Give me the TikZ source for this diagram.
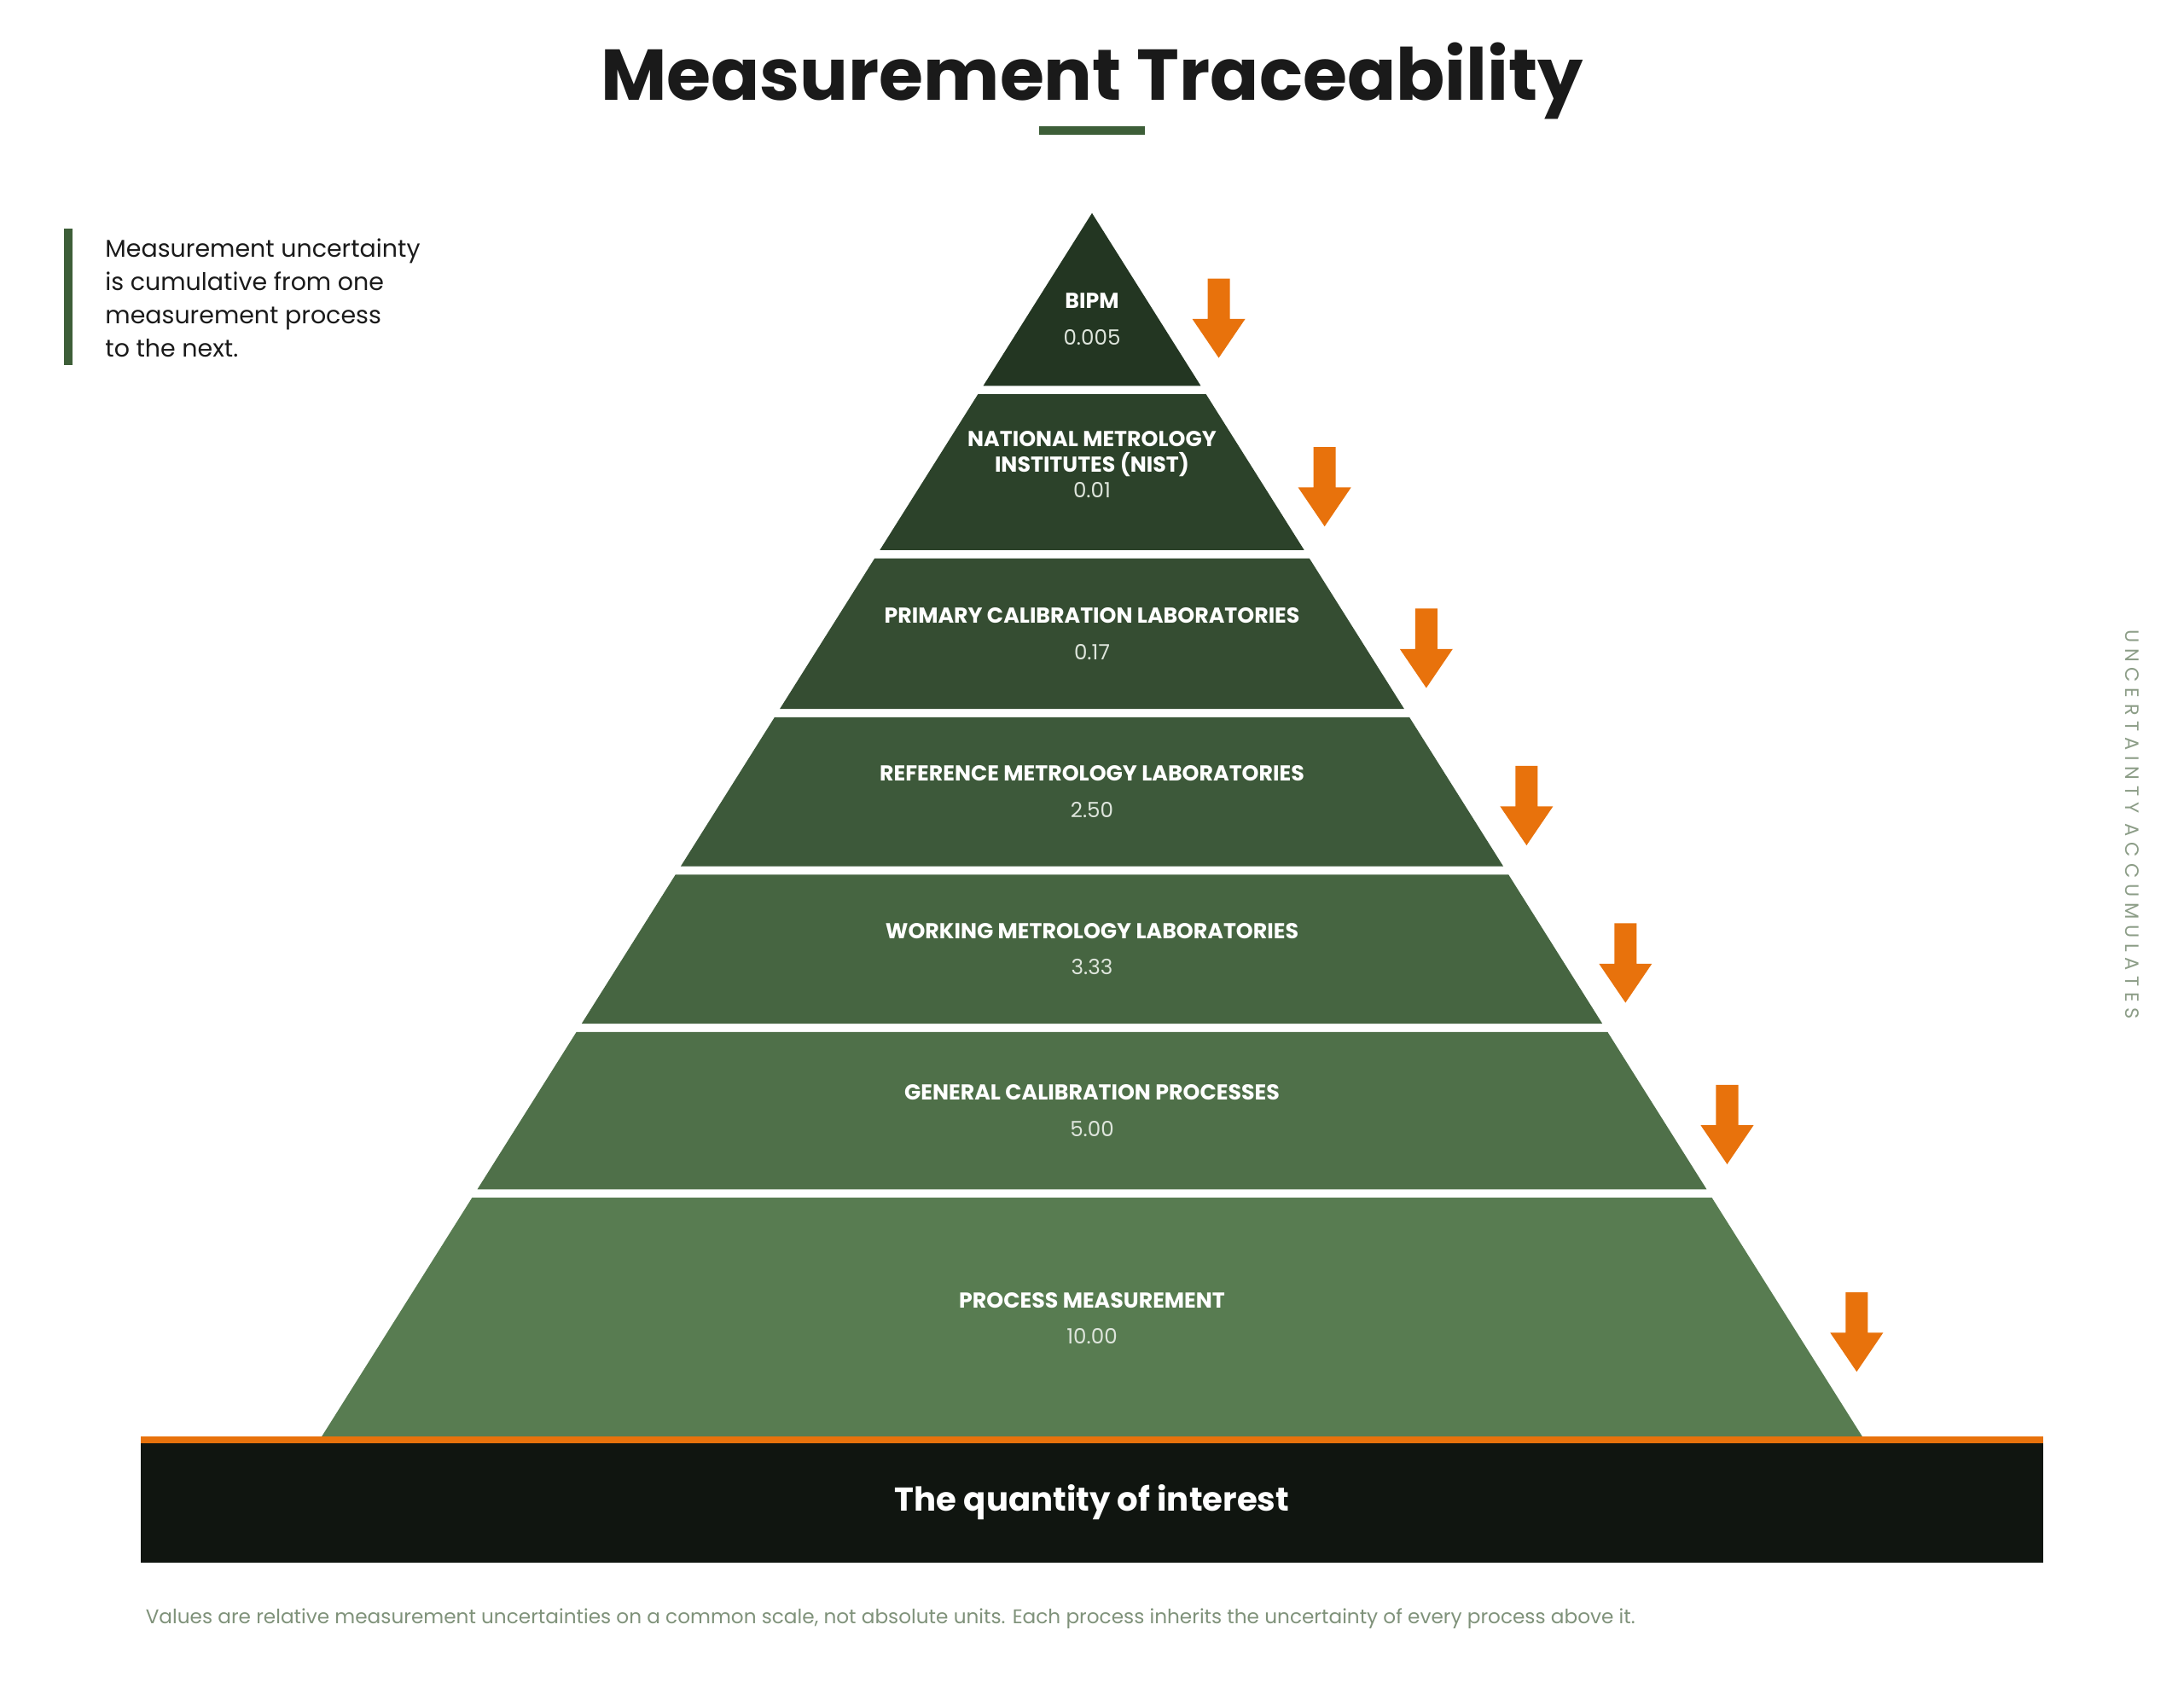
\documentclass[tikz,border=0pt]{standalone}
\usepackage{fontspec}
\setmainfont{Poppins}
\usetikzlibrary{positioning,shapes,arrows}

\definecolor{tierTop}{HTML}{233622}
\definecolor{tierBot}{HTML}{587C51}
\definecolor{accent}{HTML}{E8720C}
\definecolor{barGreen}{HTML}{3D5E38}
\definecolor{noteGray}{HTML}{7F927A}
\definecolor{baseBlack}{HTML}{101510}
\definecolor{inkBlack}{HTML}{1A1A1A}

\tikzset{
  tier label/.style={text=white, font=\bfseries\fontsize{7.2}{8.6}\selectfont, align=center},
  tier value/.style={text=white!80!tierBot, font=\fontsize{7}{8}\selectfont},
  down arrow/.style={fill=accent, draw=none},
}

\begin{document}
\begin{tikzpicture}[x=0.016327cm, y=-0.016327cm]
\useasboundingbox (0,0) rectangle (1568,1220.6);

% title
\node[text=inkBlack, font=\bfseries\fontsize{24}{28}\selectfont] (title) at (784,58) {Measurement Traceability};
\fill[barGreen] (746,90.5) rectangle (822,96.5);

% side note
\fill[barGreen] (46,164) rectangle (52,262);
\node[anchor=north west, align=left, text=inkBlack, font=\fontsize{8.1}{11.1}\selectfont] (note) at (68,164)
  {Measurement uncertainty\\is cumulative from one\\measurement process\\to the next.};

% tiers
\foreach \ytop/\ybot/\lab/\val/\n [count=\i] in {
  153/277/{BIPM}/0.005/bipm,
  283/395/{NATIONAL METROLOGY\\INSTITUTES (NIST)}/0.01/nmi,
  401/509/{PRIMARY CALIBRATION LABORATORIES}/0.17/pcl,
  515/622/{REFERENCE METROLOGY LABORATORIES}/2.50/rml,
  628/735/{WORKING METROLOGY LABORATORIES}/3.33/wml,
  741/854/{GENERAL CALIBRATION PROCESSES}/5.00/gcp,
  860/1033/{PROCESS MEASUREMENT}/10.00/pm}{
  \pgfmathsetmacro\hl{0.6295*(\ytop-153)}
  \pgfmathsetmacro\hb{0.6295*(\ybot-153)}
  \pgfmathsetmacro\p{(\i-1)*100/6}
  \pgfmathsetmacro\ym{(\ytop+\ybot)/2 + (\i==1 ? 14 : 0)}
  \fill[tierBot!\p!tierTop] (784-\hl,\ytop) -- (784+\hl,\ytop) -- (784+\hb,\ybot) -- (784-\hb,\ybot) -- cycle;
  \node[tier label] (\n) at (784,\ym-13) {\lab};
  \node[tier value] (\n-val) at (784,\ym+13) {\val};
}
\node[tier value] at (784,360) {};

% arrows
\foreach \ax/\ay in {875/200, 951/321, 1024/437, 1096/550, 1167/663, 1240/779, 1333/928}{
  \fill[down arrow] (\ax-8,\ay) -- (\ax+8,\ay) -- (\ax+8,\ay+29) -- (\ax+19,\ay+29)
    -- (\ax,\ay+57) -- (\ax-19,\ay+29) -- (\ax-8,\ay+29) -- cycle;
}

% base
\fill[baseBlack] (101,1036) rectangle (1467,1122);
\fill[accent] (101,1031.5) rectangle (1467,1036.5);
\node[text=white, font=\bfseries\fontsize{11}{13}\selectfont] (base) at (784,1079) {The quantity of interest};

% footnote
\node[anchor=west, text=noteGray, font=\fontsize{6.6}{8}\selectfont] (foot) at (97,1162)
  {Values are relative measurement uncertainties on a common scale, not absolute units. Each process inherits the uncertainty of every process above it.};

% side label
\node[rotate=-90, text=noteGray!90!white, font=\addfontfeature{LetterSpace=30}\fontsize{6.4}{8}\selectfont] (side) at (1531,592) {UNCERTAINTY ACCUMULATES};
\end{tikzpicture}
\end{document}
